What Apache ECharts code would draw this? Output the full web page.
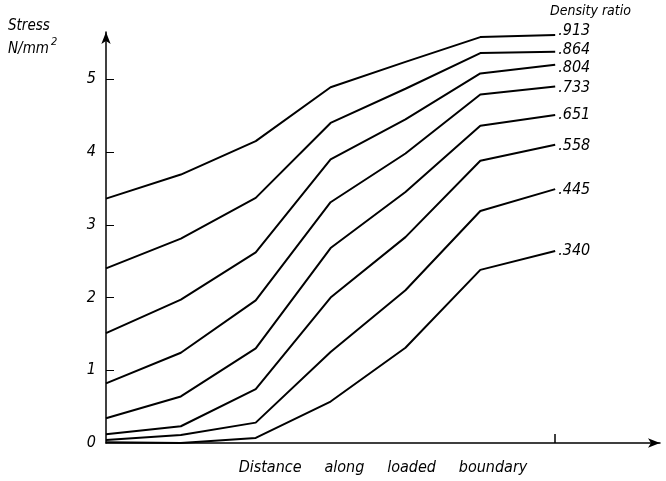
<!DOCTYPE html>
<html>
<head>
<meta charset="utf-8">
<script src="https://cdn.jsdelivr.net/npm/echarts@6/dist/echarts.min.js"></script>
<style>
  html, body { margin: 0; padding: 0; background: #fff; }
  #box { width: 666px; height: 481px; }
</style>
</head>
<body>
<div id="box"></div>
<script>
// positions along the loaded boundary (equal steps)
var xPos = [0, 1, 2, 3, 4, 5, 6];
var ratios = [".913", ".864", ".804", ".733", ".651", ".558", ".445", ".340"];
var yTicks = [0, 1, 2, 3, 4, 5];

// stress values, N/mm2, one array per density ratio
var s913 = [3.36, 3.69, 4.15, 4.89, 5.24, 5.58, 5.61];
var s864 = [2.40, 2.81, 3.37, 4.40, 4.87, 5.36, 5.38];
var s804 = [1.51, 1.97, 2.62, 3.90, 4.45, 5.08, 5.20];
var s733 = [0.82, 1.24, 1.96, 3.31, 3.98, 4.79, 4.90];
var s651 = [0.34, 0.64, 1.30, 2.68, 3.45, 4.36, 4.51];
var s558 = [0.12, 0.23, 0.74, 2.00, 2.83, 3.88, 4.10];
var s445 = [0.04, 0.11, 0.28, 1.25, 2.10, 3.19, 3.49];
var s340 = [0.01, 0.00, 0.07, 0.57, 1.31, 2.38, 2.64];

var allSeries = [s913, s864, s804, s733, s651, s558, s445, s340];
var labelShift = [-4, -2, 3, 1, 0, 1, 1, 0]; // small nudges so labels sit like the print

var font = "'Liberation Sans Narrow', 'DejaVu Sans Condensed', 'Roboto', sans-serif";

var myChart = echarts.init(document.getElementById("box"));
var option = {
  animation: false,
  grid: { left: 106, right: 6, top: 32, bottom: 31 },
  xAxis: {
    type: "value",
    min: 0,
    max: 7.4,
    name: "Distance     along     loaded     boundary",
    nameLocation: "middle",
    nameGap: 17,
    nameTextStyle: { fontFamily: font, fontStyle: "italic", fontSize: 16, color: "#000" },
    splitLine: { show: false },
    axisLine: {
      onZero: false,
      lineStyle: { color: "#000", width: 1.5 },
      symbol: ["none", "arrow"],
      symbolSize: [7, 12]
    },
    axisTick: { show: true, inside: true, length: 9, customValues: [6], lineStyle: { color: "#000", width: 1.5 } },
    axisLabel: { show: false }
  },
  yAxis: {
    type: "value",
    min: 0,
    max: 5.65,
    interval: 1,
    splitLine: { show: false },
    axisLine: {
      show: true,
      lineStyle: { color: "#000", width: 1.5 },
      symbol: ["none", "arrow"],
      symbolSize: [7, 12]
    },
    axisTick: { show: true, inside: true, length: 8, customValues: [1, 2, 3, 4, 5], lineStyle: { color: "#000", width: 1 } },
    axisLabel: {
      customValues: yTicks,
      margin: 10,
      fontFamily: font,
      fontStyle: "italic",
      fontSize: 16,
      color: "#000"
    }
  },
  graphic: [
    { type: "text", left: 8, top: 19, style: { text: "Stress", font: "italic 15px " + font, fill: "#000" } },
    {
      type: "text", left: 8, top: 37,
      style: {
        text: "{b|N/mm}{s|2}",
        rich: {
          b: { fontFamily: font, fontStyle: "italic", fontSize: 15, fill: "#000", verticalAlign: "bottom", lineHeight: 20 },
          s: { fontFamily: font, fontStyle: "italic", fontSize: 11, fill: "#000", verticalAlign: "top", padding: [0, 0, 0, 2], lineHeight: 20 }
        }
      }
    },
    { type: "text", left: 550, top: 4, style: { text: "Density ratio", font: "italic 14px " + font, fill: "#000" } }
  ],
  series: allSeries.map(function (vals, i) {
    return {
      name: ratios[i],
      type: "line",
      showSymbol: false,
      symbol: "none",
      data: xPos.map(function (x, j) { return [x, vals[j]]; }),
      lineStyle: { color: "#000", width: 2 },
      endLabel: {
        show: true,
        formatter: "{a}",
        distance: 3,
        offset: [0, labelShift[i]],
        fontFamily: font,
        fontStyle: "italic",
        fontSize: 16,
        color: "#000"
      }
    };
  })
};
myChart.setOption(option);
</script>
</body>
</html>
